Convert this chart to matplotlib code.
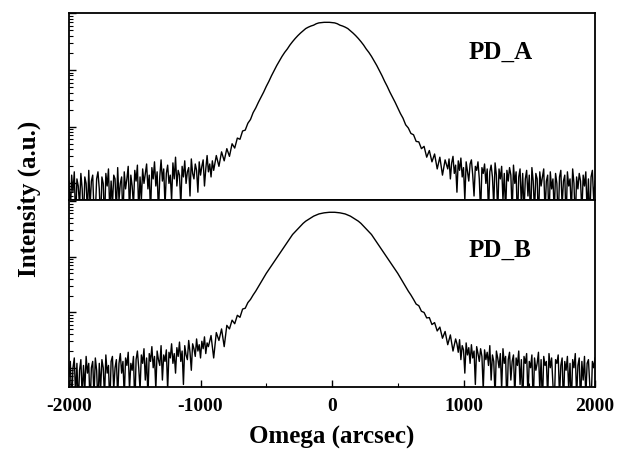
import matplotlib
matplotlib.use("Agg")
import matplotlib.pyplot as plt
import numpy as np

plt.rcParams['font.family'] = ['Liberation Serif', 'DejaVu Serif']
plt.rcParams['font.weight'] = 'bold'
plt.rcParams['axes.unicode_minus'] = False

# omega grids (arcsec): 10" steps in the noisy tails, 20" across the peak
omega_a = np.concatenate([np.arange(-2000, -900, 10),
                          np.arange(-900, 861, 20),
                          np.arange(880, 2001, 10)])
omega_b = np.concatenate([np.arange(-2000, -940, 10),
                          np.arange(-940, 941, 20),
                          np.arange(950, 2001, 10)])

# PD_A counts
pd_a_left = [
    11, 3, 14, 7, 16, 2, 12, 9, 4, 15, 8, 2, 13, 10, 3, 17, 4, 11, 14, 3,
    3, 12, 16, 8, 2, 13, 10, 2, 15, 9, 18, 3, 11, 4, 14, 12, 3, 19, 5, 10,
    13, 2, 16, 8, 12, 20, 3, 14, 9, 4, 17, 11, 21, 3, 13, 5, 18, 10, 15, 22,
    8, 14, 3, 19, 12, 24, 9, 16, 3, 13, 26, 11, 18, 4, 15, 21, 10, 14, 5, 23,
    12, 29, 9, 17, 14, 4, 20, 13, 25, 10, 16, 19, 6, 27, 15, 12, 22, 17, 7, 24,
    14, 20, 26, 9, 18, 31, 16, 22, 13, 25,
]
pd_a_peak = [
    17, 31, 20, 36, 25, 41, 30, 50, 42, 63, 60, 84, 87, 115, 134, 177, 214,
    269, 331, 407, 513, 631, 794, 977, 1202, 1445, 1738, 2042, 2344, 2754,
    3162, 3589, 4027, 4467, 4898, 5370, 5689, 5957, 6166, 6531, 6761, 6839,
    6918, 6918, 6918, 6839, 6761, 6531, 6166, 5957, 5689, 5370, 4898, 4467,
    4027, 3589, 3162, 2754, 2344, 2042, 1738, 1445, 1202, 977, 794, 631, 513,
    407, 331, 269, 214, 171, 141, 108, 95, 76, 72, 55, 54, 41, 45, 29, 38, 24,
    33, 18, 29, 14, 26,
]
pd_a_right = [
    18, 27, 12, 23, 30, 15, 21, 7, 25, 17, 28, 13, 19, 5, 24, 16, 11, 22, 26, 14,
    6, 20, 17, 24, 12, 3, 19, 15, 22, 10, 18, 3, 16, 21, 13, 4, 23, 14, 3, 18,
    12, 20, 5, 15, 3, 17, 11, 19, 14, 3, 21, 10, 16, 2, 13, 18, 4, 15, 3, 12,
    17, 6, 14, 2, 19, 11, 3, 15, 12, 2, 16, 9, 13, 18, 3, 11, 14, 2, 16, 8,
    12, 3, 15, 10, 2, 13, 17, 4, 11, 14, 2, 16, 9, 12, 3, 18, 10, 2, 13, 8,
    15, 11, 3, 14, 9, 16, 3, 12, 2, 13, 17, 5, 11,
]

# PD_B counts
pd_b_left = [
    7, 13, 2, 10, 15, 3, 12, 2, 9, 14, 3, 11, 4, 16, 8, 12, 2, 10, 13, 3,
    15, 9, 2, 12, 4, 14, 10, 3, 17, 8, 11, 2, 13, 16, 4, 10, 14, 3, 12, 18,
    8, 13, 3, 15, 11, 19, 4, 12, 9, 16, 2, 14, 20, 10, 4, 17, 12, 22, 6, 15,
    3, 18, 13, 24, 10, 16, 4, 20, 14, 11, 25, 6, 17, 13, 21, 4, 19, 15, 27, 12,
    18, 8, 23, 16, 29, 13, 20, 5, 25, 17, 14, 31, 19, 9, 27, 22, 16, 33, 20, 26,
    15, 30, 22, 36, 18, 28,
]
pd_b_peak = [
    24, 38, 15, 43, 31, 50, 24, 58, 50, 72, 62, 88, 81, 114, 118, 149, 170,
    204, 240, 288, 347, 417, 501, 589, 692, 813, 955, 1122, 1318, 1549, 1820,
    2138, 2512, 2818, 3162, 3548, 3981, 4365, 4677, 5012, 5370, 5623, 5888,
    6026, 6166, 6237, 6310, 6310, 6310, 6237, 6166, 6026, 5888, 5623, 5370,
    5012, 4677, 4365, 3981, 3548, 3162, 2818, 2512, 2138, 1820, 1549, 1318,
    1122, 955, 813, 692, 589, 501, 417, 347, 288, 240, 204, 170, 140, 131,
    104, 99, 79, 80, 60, 65, 46, 54, 34, 45, 26, 39, 20, 33,
]
pd_b_right = [
    27, 19, 32, 14, 25, 21, 8, 28, 17, 23, 12, 26, 15, 20, 5, 24, 18, 13, 22, 16,
    4, 21, 14, 19, 11, 25, 6, 17, 13, 3, 20, 15, 10, 18, 4, 22, 12, 16, 2, 14,
    19, 6, 13, 17, 3, 15, 11, 20, 5, 14, 2, 16, 12, 18, 3, 13, 10, 17, 2, 15,
    9, 12, 19, 4, 14, 2, 16, 11, 13, 3, 18, 10, 15, 5, 2, 14, 12, 17, 3, 11,
    15, 2, 13, 9, 16, 4, 12, 2, 14, 10, 18, 3, 11, 15, 2, 13, 6, 16, 3, 12,
    14, 5, 2, 13, 10, 15,
]

pd_a = pd_a_left + pd_a_peak + pd_a_right
pd_b = pd_b_left + pd_b_peak + pd_b_right

labels = ['PD_A', 'PD_B']
xticks = [-2000, -1000, 0, 1000, 2000]

fig = plt.figure(figsize=(6.18, 4.53), dpi=100)
ax_a = fig.add_axes([0.1117, 0.5585, 0.8511, 0.4128])
ax_b = fig.add_axes([0.1117, 0.1457, 0.8511, 0.4128], sharex=ax_a)

ax_a.plot(omega_a, pd_a, color='black', lw=1.0)
ax_b.plot(omega_b, pd_b, color='black', lw=1.0)

ax_a.set_ylim(5.1, 1.01e4)
ax_b.set_ylim(4.5, 1.05e4)

for ax, lab, ty in zip([ax_a, ax_b], labels, [0.79, 0.73]):
    ax.set_yscale('log')
    ax.set_xlim(-2000, 2000)
    ax.tick_params(axis='y', which='both', direction='in', left=True,
                   right=False, labelleft=False)
    ax.tick_params(axis='y', which='major', length=5, width=1)
    ax.tick_params(axis='y', which='minor', length=3, width=0.8)
    for s in ax.spines.values():
        s.set_linewidth(1.3)
    ax.text(0.82, ty, lab, transform=ax.transAxes, ha='center', va='center',
            fontsize=18, fontweight='bold')

ax_a.tick_params(axis='x', which='both', bottom=False, labelbottom=False)
ax_b.set_xticks(xticks)
ax_b.set_xticks([-1500, -500, 500, 1500], minor=True)
ax_b.tick_params(axis='x', which='major', direction='in', length=5, width=1,
                 labelsize=14, pad=8)
ax_b.tick_params(axis='x', which='minor', direction='in', length=3, width=0.8)
for t in ax_b.get_xticklabels():
    t.set_fontweight('bold')

ax_b.set_xlabel('Omega (arcsec)', fontsize=18, fontweight='bold', labelpad=8)
fig.text(0.048, 0.56, 'Intensity (a.u.)', rotation=90, ha='center',
         va='center', fontsize=18, fontweight='bold')

fig.savefig('out.png', dpi=100)
